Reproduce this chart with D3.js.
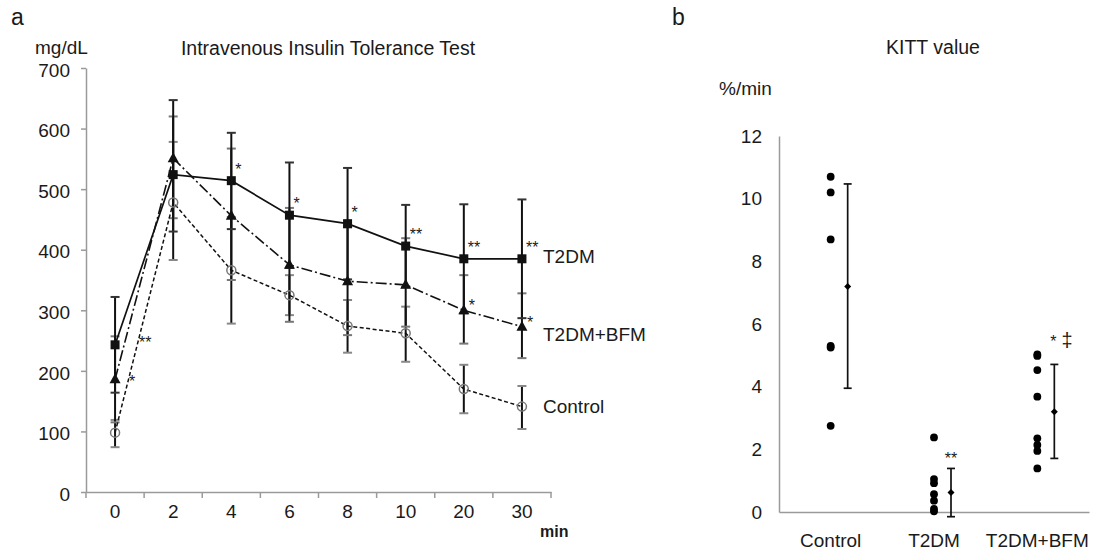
<!DOCTYPE html>
<html><head><meta charset="utf-8">
<script src="https://cdn.jsdelivr.net/npm/d3@7"></script>
<style>
html,body{margin:0;padding:0;background:#fff;}
svg{display:block;font-family:"Liberation Sans",Arial,sans-serif;}
</style></head>
<body>
<svg id="chart" width="1098" height="554"></svg>
<script>
// ---------- Data: panel a (IVITT, mg/dL) ----------
const timeCategories = ["0","2","4","6","8","10","20","30"];
const yTicksA = [0,100,200,300,400,500,600,700];

const t2dmMean = [243,524,514,457,443,406,385,385];
const t2dmHi   = [322,647,593,544,535,474,475,483];
const t2dmLo   = [164,430,434,370,351,338,295,287];
const t2dmSig  = ["**","","*","*","*","**","**","**"];

const bfmMean  = [186,551,456,375,348,342,300,273];
const bfmHi    = [257,620,567,469,437,419,358,328];
const bfmLo    = [115,452,350,281,259,273,245,221];
const bfmSig   = ["*","","","","","","*","*"];

const ctrlMean = [98,478,366,325,274,262,170,141];
const ctrlHi   = [119,578,454,358,317,306,210,175];
const ctrlLo   = [74,383,278,292,230,215,130,104];

const seriesNames = ["T2DM","T2DM+BFM","Control"];

// ---------- Data: panel b (KITT, %/min) ----------
const kittGroups  = ["Control","T2DM","T2DM+BFM"];
const kittControl = [10.7,10.2,8.7,5.3,5.25,2.75];
const kittT2DM    = [2.38,1.05,0.92,0.57,0.36,0.1,0.02];
const kittBFM     = [5.03,4.98,4.53,3.68,2.35,2.14,1.95,1.39];
const kittMean    = [7.2,0.62,3.2];
const kittHi      = [10.47,1.39,4.71];
const kittLo      = [3.95,-0.15,1.71];
const kittSig     = ["","**","*"];
const kittSig2    = ["","","‡"];
const yTicksB     = [0,2,4,6,8,10,12];

// ---------- Drawing ----------
const svg = d3.select("#chart");
const AX = "#9a9a9a", TXT = "#1a1a1a";
const FS = "19px";

// ===== Panel a =====
const x = d3.scaleBand().domain(timeCategories).range([86,551]);
const y = d3.scaleLinear().domain([0,700]).range([492,68]);
const cx = c => x(c) + x.bandwidth()/2;

const gya = svg.append("g").attr("transform","translate(86,0)")
  .call(d3.axisLeft(y).tickValues(yTicksA).tickSize(5).tickSizeOuter(0).tickPadding(11));
gya.selectAll(".tick text").attr("dy","0.43em");
const gxa = svg.append("g").attr("transform","translate(0,492)")
  .call(d3.axisBottom(x).tickSize(0).tickSizeOuter(0).tickPadding(13));
[gya,gxa].forEach(g=>{
  g.select(".domain").attr("stroke",AX).attr("stroke-width",1.5);
  g.selectAll(".tick line").attr("stroke",AX).attr("stroke-width",1.5);
  g.selectAll("text").attr("fill",TXT).style("font-size",FS);
});
// boundary ticks between categories
svg.append("g").selectAll("line")
  .data(d3.range(timeCategories.length+1))
  .join("line")
  .attr("x1",i=>x.range()[0]+i*x.step()).attr("x2",i=>x.range()[0]+i*x.step())
  .attr("y1",492).attr("y2",498).attr("stroke",AX).attr("stroke-width",1.5);

svg.append("text").attr("x",11).attr("y",25).attr("fill",TXT).style("font-size","23px").text("a");
svg.append("text").attr("x",35).attr("y",54).attr("fill",TXT).style("font-size",FS).text("mg/dL");
svg.append("text").attr("x",328).attr("y",55).attr("text-anchor","middle").attr("fill",TXT).style("font-size","19.5px").text("Intravenous Insulin Tolerance Test");
svg.append("text").attr("x",540).attr("y",537).attr("fill",TXT).style("font-size","16px").style("font-weight","bold").text("min");

const series = [
  {name:seriesNames[0], mean:t2dmMean, hi:t2dmHi, lo:t2dmLo, dash:null, w:1.7, cap:"#333"},
  {name:seriesNames[1], mean:bfmMean, hi:bfmHi, lo:bfmLo, dash:"11,3,2,3", w:1.6, cap:"#777"},
  {name:seriesNames[2], mean:ctrlMean, hi:ctrlHi, lo:ctrlLo, dash:"4,2.5", w:1.5, cap:"#888"}
];

// error bars (draw Control, BFM, then T2DM on top)
[...series].reverse().forEach(s=>{
  const g = svg.append("g");
  timeCategories.forEach((c,i)=>{
    g.append("line").attr("x1",cx(c)).attr("x2",cx(c))
      .attr("y1",y(s.hi[i])).attr("y2",y(s.lo[i]))
      .attr("stroke","#111").attr("stroke-width",2);
    [s.hi[i],s.lo[i]].forEach(v=>{
      g.append("line").attr("x1",cx(c)-4.5).attr("x2",cx(c)+4.5)
        .attr("y1",y(v)).attr("y2",y(v))
        .attr("stroke",s.cap).attr("stroke-width",2);
    });
  });
});

// lines
const line = d3.line().x((d,i)=>cx(timeCategories[i])).y(d=>y(d));
series.forEach(s=>{
  svg.append("path").datum(s.mean).attr("d",line)
    .attr("fill","none").attr("stroke","#111").attr("stroke-width",s.w)
    .attr("stroke-dasharray",s.dash);
});

// markers
svg.append("g").selectAll("rect").data(t2dmMean).join("rect")
  .attr("x",(d,i)=>cx(timeCategories[i])-4.5).attr("y",d=>y(d)-4.5)
  .attr("width",9).attr("height",9).attr("fill","#111");
svg.append("g").selectAll("path").data(bfmMean).join("path")
  .attr("transform",(d,i)=>`translate(${cx(timeCategories[i])},${y(d)})`)
  .attr("d","M0,-6L5.5,4L-5.5,4Z").attr("fill","#111");
svg.append("g").selectAll("circle").data(ctrlMean).join("circle")
  .attr("cx",(d,i)=>cx(timeCategories[i])).attr("cy",d=>y(d)).attr("r",4.5)
  .attr("fill","none").attr("stroke","#777").attr("stroke-width",1.5);

// significance marks
timeCategories.forEach((c,i)=>{
  if(t2dmSig[i]){
    const dx = i===0 ? 24 : 4, dy = i===0 ? 3 : -6;
    svg.append("text").attr("x",cx(c)+dx).attr("y",y(t2dmMean[i])+dy)
      .attr("fill",TXT).style("font-size","16px").text(t2dmSig[i]);
  }
  if(bfmSig[i]){
    const dx = i===0 ? 14 : 5, dy = i===0 ? 8 : 1;
    svg.append("text").attr("x",cx(c)+dx).attr("y",y(bfmMean[i])+dy)
      .attr("fill",TXT).style("font-size","16px").text(bfmSig[i]);
  }
});

// series labels at right end
const last = timeCategories.length-1;
[[seriesNames[0],t2dmMean[last],4],[seriesNames[1],bfmMean[last],14],[seriesNames[2],ctrlMean[last],6]]
  .forEach(([n,v,dy])=>{
    svg.append("text").attr("x",543).attr("y",y(v)+dy).attr("fill",TXT)
      .style("font-size",FS).text(n);
  });

// ===== Panel b =====
const xb = d3.scaleBand().domain(kittGroups).range([779,1089]);
const yb = d3.scaleLinear().domain([0,12]).range([512,136]);
const bc = g => xb(g) + xb.bandwidth()/2;

const gyb = svg.append("g").attr("transform","translate(779,0)")
  .call(d3.axisLeft(yb).tickValues(yTicksB).tickSize(0).tickSizeOuter(0).tickPadding(17));
const gxb = svg.append("g").attr("transform","translate(0,512)")
  .call(d3.axisBottom(xb).tickSize(0).tickSizeOuter(0).tickPadding(22));
[gyb,gxb].forEach(g=>{
  g.select(".domain").attr("stroke",AX).attr("stroke-width",1.5);
  g.selectAll("text").attr("fill",TXT).style("font-size",FS);
});

svg.append("text").attr("x",672).attr("y",25).attr("fill",TXT).style("font-size","23px").text("b");
svg.append("text").attr("x",933).attr("y",54).attr("text-anchor","middle").attr("fill",TXT).style("font-size","19.5px").text("KITT value");
svg.append("text").attr("x",719).attr("y",95).attr("fill",TXT).style("font-size",FS).text("%/min");

const groupVals = [kittControl,kittT2DM,kittBFM];
groupVals.forEach((vals,gi)=>{
  const g = kittGroups[gi];
  svg.append("g").selectAll("circle").data(vals).join("circle")
    .attr("cx",bc(g)).attr("cy",d=>yb(d)).attr("r",3.9).attr("fill","#000");
  const bx = bc(g)+17;
  svg.append("line").attr("x1",bx).attr("x2",bx)
    .attr("y1",yb(kittHi[gi])).attr("y2",yb(kittLo[gi]))
    .attr("stroke","#111").attr("stroke-width",1.7);
  [kittHi[gi],kittLo[gi]].forEach(v=>{
    svg.append("line").attr("x1",bx-4).attr("x2",bx+4)
      .attr("y1",yb(v)).attr("y2",yb(v)).attr("stroke","#111").attr("stroke-width",1.7);
  });
  svg.append("path").attr("transform",`translate(${bx},${yb(kittMean[gi])})`)
    .attr("d","M0,-3.5L3.5,0L0,3.5L-3.5,0Z").attr("fill","#000");
  if(kittSig[gi]){
    const t = svg.append("text").attr("x",bx+(kittSig2[gi]?-4:0))
      .attr("y",yb(kittHi[gi])-(kittSig2[gi]?17:4))
      .attr("text-anchor",kittSig2[gi]?"start":"middle")
      .attr("fill",TXT).style("font-size","16px").text(kittSig[gi]);
    if(kittSig2[gi]){
      t.append("tspan").attr("dx",5).style("font-size","20px").text(kittSig2[gi]);
    }
  }
});
</script>
</body></html>
